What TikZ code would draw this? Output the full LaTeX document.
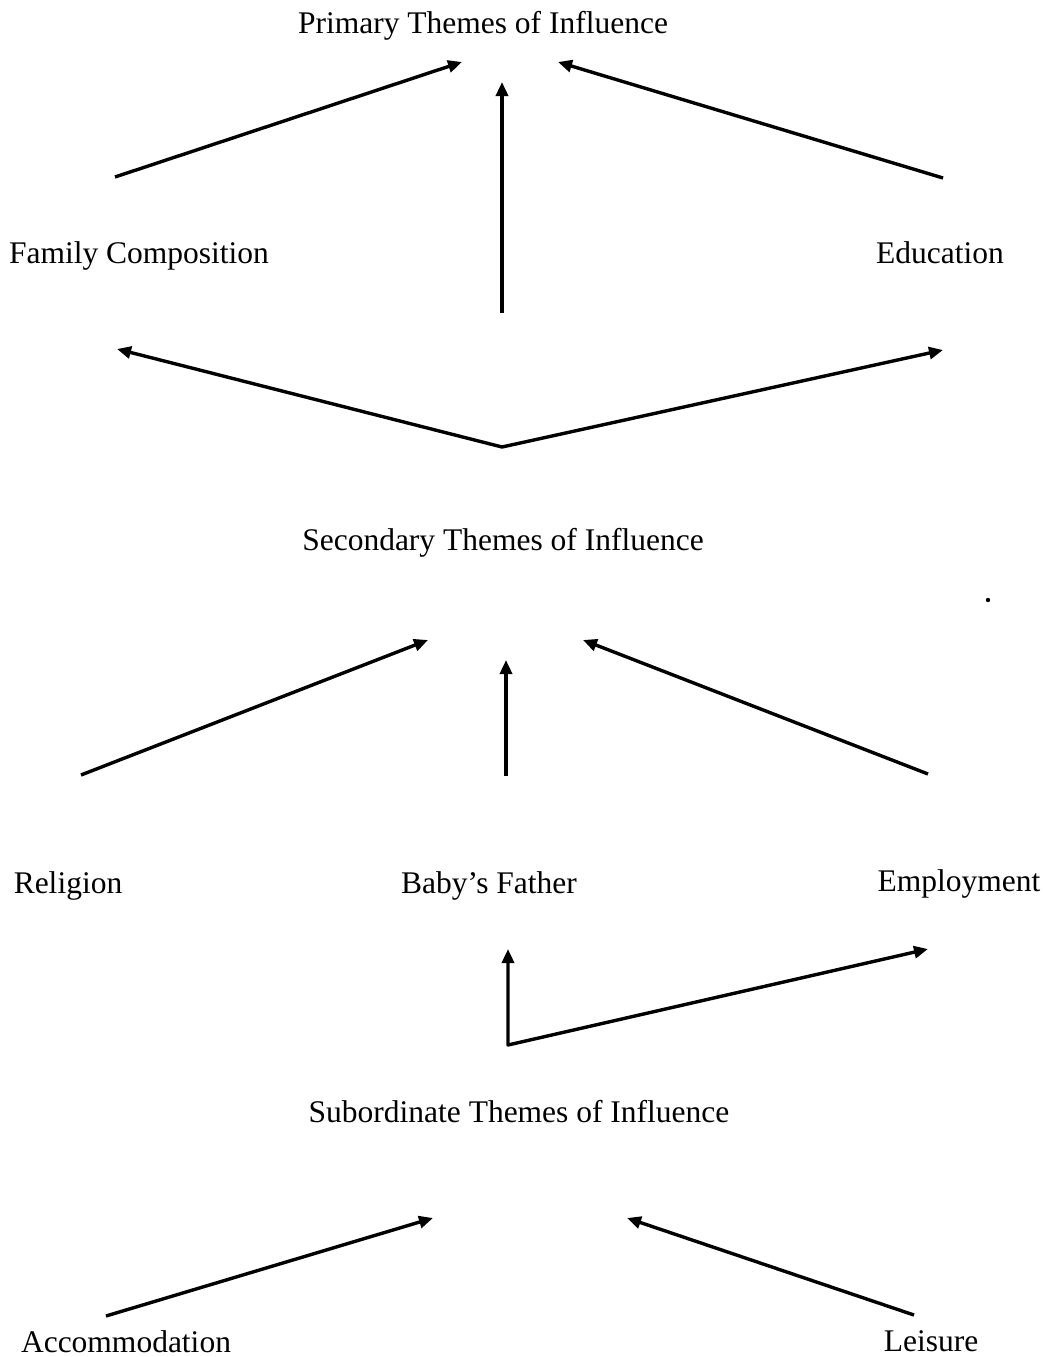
\documentclass[tikz,border=0pt]{standalone}
\usepackage{fontspec}
\setmainfont{Liberation Serif}
\usetikzlibrary{arrows.meta}

\begin{document}
\begin{tikzpicture}[
  x=1pt, y=-1pt,
  label/.style={anchor=base, inner sep=0pt, font=\fontsize{31.5}{36}\selectfont},
  link/.style={line width=3.4pt, -{Triangle[length=14pt,width=12pt]}},
  fork/.style={line width=3.4pt, line join=round, {Triangle[length=14pt,width=12pt]}-{Triangle[length=14pt,width=12pt]}},
]
\useasboundingbox (0,0) rectangle (1043,1357);

% theme labels
\node[label] (primary)   at (483,33)   {Primary Themes of Influence};
\node[label] (family)    at (139,263)  {Family Composition};
\node[label] (education) at (940,263)  {Education};
\node[label] (secondary) at (503,550)  {Secondary Themes of Influence};
\node[label] (religion)  at (68,893)   {Religion};
\node[label] (father)    at (489,893)  {Baby’s Father};
\node[label] (employ)    at (959,891)  {Employment};
\node[label] (subord)    at (519,1122) {Subordinate Themes of Influence};
\node[label] (accom)     at (126,1352) {Accommodation};
\node[label] (leisure)   at (931,1351) {Leisure};

% connector end points
\coordinate (pA) at (462,62);   \coordinate (pB) at (502,82);   \coordinate (pC) at (558,62);
\coordinate (fA) at (115,177);  \coordinate (sV) at (502,313);  \coordinate (eA) at (943,178);
\coordinate (fB) at (117,349);  \coordinate (sApex) at (502,447); \coordinate (eB) at (943,350);
\coordinate (sA) at (428,640);  \coordinate (sB) at (506,660);  \coordinate (sC) at (583,640);
\coordinate (rA) at (81,775);   \coordinate (bA) at (506,776);  \coordinate (mA) at (928,774);
\coordinate (bB) at (508,949);  \coordinate (uApex) at (508,1045); \coordinate (mB) at (928,949);
\coordinate (uA) at (433,1218); \coordinate (uB) at (627,1218);
\coordinate (aA) at (106,1316); \coordinate (lA) at (914,1315);

% primary level
\draw[link] (fA) -- (pA);
\draw[link] (sV) -- (pB);
\draw[link] (eA) -- (pC);
\draw[fork] (fB) -- (sApex) -- (eB);

% secondary level
\draw[link] (rA) -- (sA);
\draw[link] (bA) -- (sB);
\draw[link] (mA) -- (sC);
\draw[fork] (bB) -- (uApex) -- (mB);

% subordinate level
\draw[link] (aA) -- (uA);
\draw[link] (lA) -- (uB);

% small speck at the right margin
\fill (988,600) circle (2.2pt);
\end{tikzpicture}
\end{document}
